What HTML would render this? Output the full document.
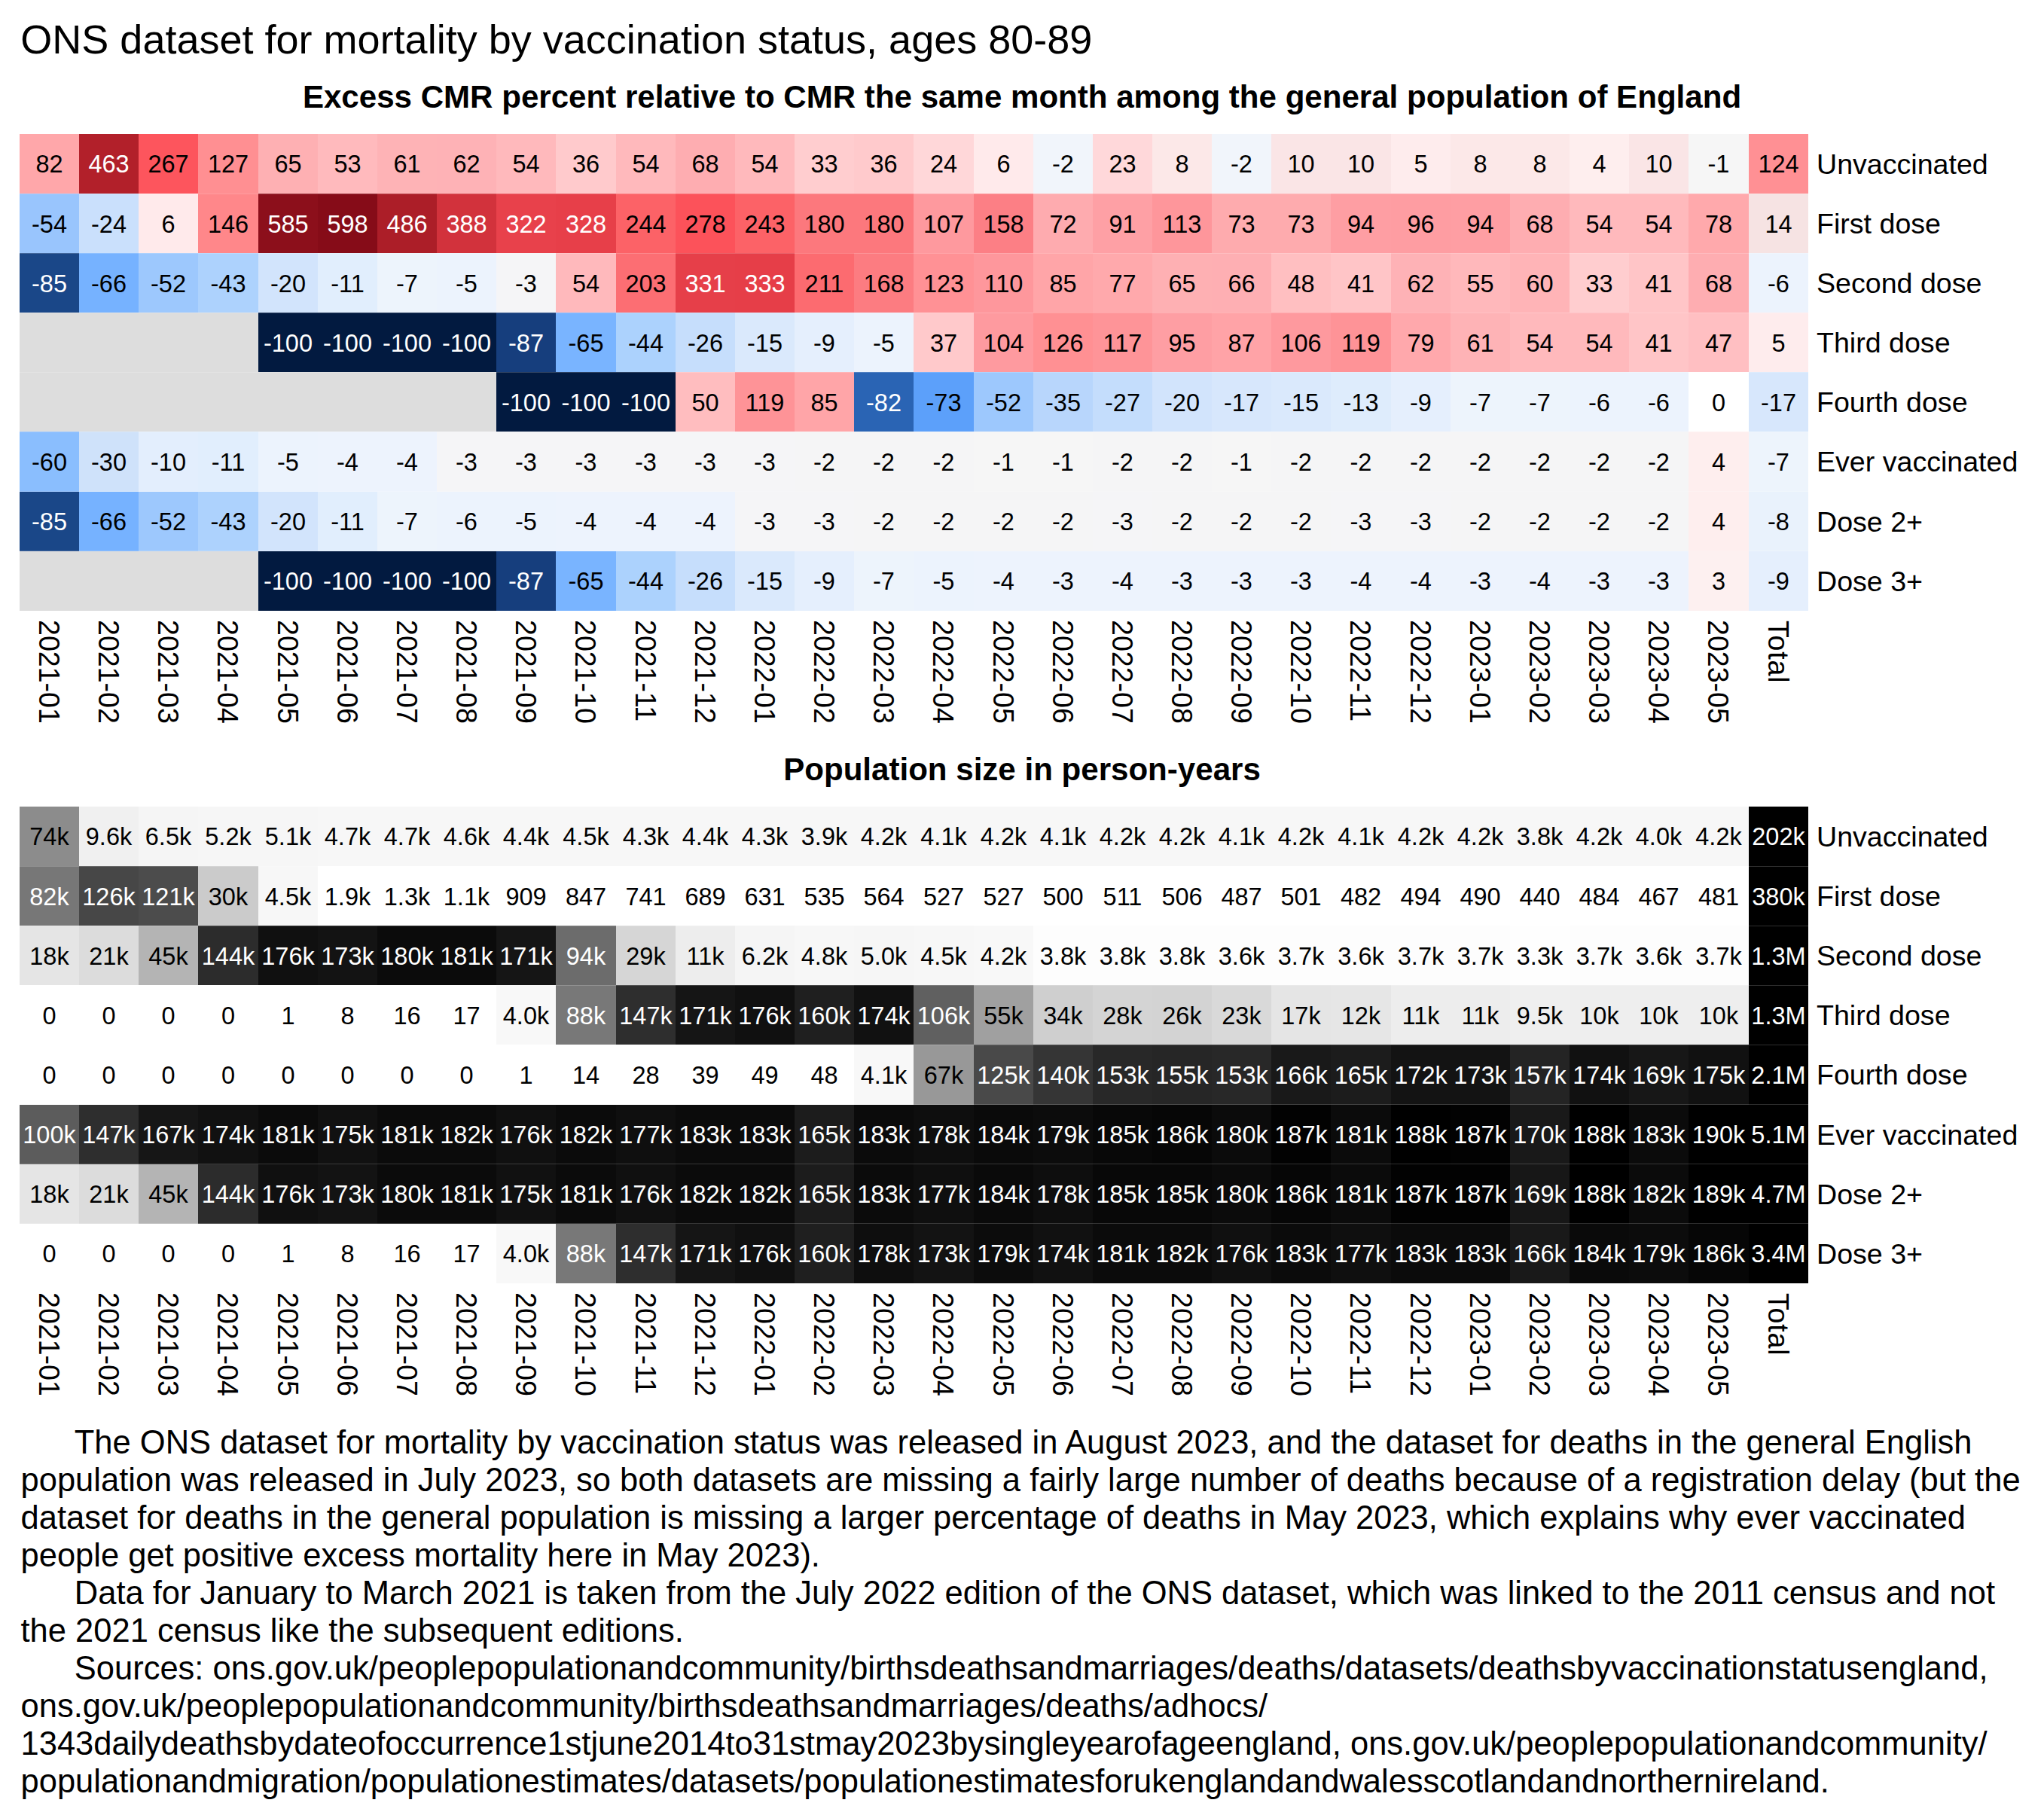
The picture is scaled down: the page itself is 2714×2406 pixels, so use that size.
<!DOCTYPE html>
<html lang="en"><head><meta charset="utf-8"><title>ONS dataset for mortality by vaccination status, ages 80-89</title>
<style>
html,body{margin:0;padding:0;background:#fff}
body{width:2714px;height:2406px;position:relative;overflow:hidden;font-family:"Liberation Sans",sans-serif;color:#000}
.t{position:absolute;left:27.3px;top:22px;font-size:54.02px;line-height:60px;white-space:nowrap}
.st{position:absolute;left:0;width:2714px;text-align:center;font-weight:bold;font-size:42.08px;line-height:50px;white-space:nowrap}
.row{position:absolute;left:0;width:2714px}
.row b{position:absolute;top:0;height:100%;overflow:hidden;font-weight:normal;font-size:32.5px;text-align:center;white-space:nowrap}
.row b.w{color:#fff}
.row b i{display:inline-block;font-style:normal;transform:scaleY(1.022)}
.sm{position:absolute;left:26px;width:2375px;height:1px;background:rgba(255,255,255,.18)}
.rl{position:absolute;left:2412px;top:0;font-size:37.6px;white-space:nowrap}
.cl{position:absolute;font-size:37.6px;line-height:42px;height:42px;white-space:nowrap;transform-origin:0 0;transform:rotate(90deg) scaleY(1.045)}
.p{position:absolute;left:27.5px;top:1890px;font-size:43.51px;line-height:50px;white-space:nowrap}
.p i{font-style:normal;display:inline-block;width:71.3px}
</style></head><body>
<div class="t">ONS dataset for mortality by vaccination status, ages 80-89</div>
<div class="st" style="top:104px">Excess CMR percent relative to CMR the same month among the general population of England</div>
<div class="row" style="top:178px;height:79px;line-height:80.1px">
<b style="left:26px;width:79px;background:rgb(255,167,170)"><i>82</i></b>
<b class="w" style="left:105px;width:79px;background:rgb(178,32,42)"><i>463</i></b>
<b style="left:184px;width:79px;background:rgb(253,85,93)"><i>267</i></b>
<b style="left:263px;width:80px;background:rgb(255,143,146)"><i>127</i></b>
<b style="left:343px;width:79px;background:rgb(254,176,179)"><i>65</i></b>
<b style="left:422px;width:79px;background:rgb(255,186,189)"><i>53</i></b>
<b style="left:501px;width:79px;background:rgb(254,179,182)"><i>61</i></b>
<b style="left:580px;width:79px;background:rgb(254,178,182)"><i>62</i></b>
<b style="left:659px;width:79px;background:rgb(255,185,188)"><i>54</i></b>
<b style="left:738px;width:80px;background:rgb(255,202,204)"><i>36</i></b>
<b style="left:818px;width:79px;background:rgb(255,185,188)"><i>54</i></b>
<b style="left:897px;width:79px;background:rgb(254,173,177)"><i>68</i></b>
<b style="left:976px;width:79px;background:rgb(255,185,188)"><i>54</i></b>
<b style="left:1055px;width:79px;background:rgb(255,205,207)"><i>33</i></b>
<b style="left:1134px;width:79px;background:rgb(255,202,204)"><i>36</i></b>
<b style="left:1213px;width:80px;background:rgb(255,215,217)"><i>24</i></b>
<b style="left:1293px;width:79px;background:rgb(255,234,235)"><i>6</i></b>
<b style="left:1372px;width:79px;background:rgb(241,245,251)"><i>-2</i></b>
<b style="left:1451px;width:79px;background:rgb(255,216,218)"><i>23</i></b>
<b style="left:1530px;width:79px;background:rgb(252,232,232)"><i>8</i></b>
<b style="left:1609px;width:79px;background:rgb(241,245,251)"><i>-2</i></b>
<b style="left:1688px;width:79px;background:rgb(250,229,230)"><i>10</i></b>
<b style="left:1767px;width:80px;background:rgb(250,229,230)"><i>10</i></b>
<b style="left:1847px;width:79px;background:rgb(254,236,237)"><i>5</i></b>
<b style="left:1926px;width:79px;background:rgb(252,232,232)"><i>8</i></b>
<b style="left:2005px;width:79px;background:rgb(252,232,232)"><i>8</i></b>
<b style="left:2084px;width:79px;background:rgb(254,238,238)"><i>4</i></b>
<b style="left:2163px;width:79px;background:rgb(250,229,230)"><i>10</i></b>
<b style="left:2242px;width:80px;background:rgb(246,246,246)"><i>-1</i></b>
<b style="left:2322px;width:79px;background:rgb(255,144,148)"><i>124</i></b>
<span class="rl" style="line-height:80.5px">Unvaccinated</span></div>
<div class="row" style="top:257px;height:79px;line-height:82.1px">
<b style="left:26px;width:79px;background:rgb(153,197,253)"><i>-54</i></b>
<b style="left:105px;width:79px;background:rgb(202,224,252)"><i>-24</i></b>
<b style="left:184px;width:79px;background:rgb(255,234,235)"><i>6</i></b>
<b style="left:263px;width:80px;background:rgb(255,135,138)"><i>146</i></b>
<b class="w" style="left:343px;width:79px;background:rgb(140,15,27)"><i>585</i></b>
<b class="w" style="left:422px;width:79px;background:rgb(134,12,24)"><i>598</i></b>
<b class="w" style="left:501px;width:79px;background:rgb(172,30,40)"><i>486</i></b>
<b class="w" style="left:580px;width:79px;background:rgb(210,50,60)"><i>388</i></b>
<b class="w" style="left:659px;width:79px;background:rgb(232,65,75)"><i>322</i></b>
<b class="w" style="left:738px;width:80px;background:rgb(231,63,73)"><i>328</i></b>
<b style="left:818px;width:79px;background:rgb(252,98,103)"><i>244</i></b>
<b style="left:897px;width:79px;background:rgb(252,82,90)"><i>278</i></b>
<b style="left:976px;width:79px;background:rgb(252,98,103)"><i>243</i></b>
<b style="left:1055px;width:79px;background:rgb(252,120,125)"><i>180</i></b>
<b style="left:1134px;width:79px;background:rgb(252,120,125)"><i>180</i></b>
<b style="left:1213px;width:80px;background:rgb(254,153,158)"><i>107</i></b>
<b style="left:1293px;width:79px;background:rgb(252,127,133)"><i>158</i></b>
<b style="left:1372px;width:79px;background:rgb(254,171,175)"><i>72</i></b>
<b style="left:1451px;width:79px;background:rgb(254,160,165)"><i>91</i></b>
<b style="left:1530px;width:79px;background:rgb(254,150,155)"><i>113</i></b>
<b style="left:1609px;width:79px;background:rgb(254,171,174)"><i>73</i></b>
<b style="left:1688px;width:79px;background:rgb(254,171,174)"><i>73</i></b>
<b style="left:1767px;width:80px;background:rgb(254,158,163)"><i>94</i></b>
<b style="left:1847px;width:79px;background:rgb(254,157,162)"><i>96</i></b>
<b style="left:1926px;width:79px;background:rgb(254,158,163)"><i>94</i></b>
<b style="left:2005px;width:79px;background:rgb(254,173,177)"><i>68</i></b>
<b style="left:2084px;width:79px;background:rgb(255,185,188)"><i>54</i></b>
<b style="left:2163px;width:79px;background:rgb(255,185,188)"><i>54</i></b>
<b style="left:2242px;width:80px;background:rgb(255,169,172)"><i>78</i></b>
<b style="left:2322px;width:79px;background:rgb(246,227,227)"><i>14</i></b>
<span class="rl" style="line-height:80.5px">First dose</span></div>
<div class="row" style="top:336px;height:79px;line-height:82.1px">
<b class="w" style="left:26px;width:79px;background:rgb(26,71,136)"><i>-85</i></b>
<b style="left:105px;width:79px;background:rgb(118,178,255)"><i>-66</i></b>
<b style="left:184px;width:79px;background:rgb(157,200,253)"><i>-52</i></b>
<b style="left:263px;width:80px;background:rgb(173,210,253)"><i>-43</i></b>
<b style="left:343px;width:79px;background:rgb(210,228,252)"><i>-20</i></b>
<b style="left:422px;width:79px;background:rgb(225,238,253)"><i>-11</i></b>
<b style="left:501px;width:79px;background:rgb(237,244,252)"><i>-7</i></b>
<b style="left:580px;width:79px;background:rgb(236,243,253)"><i>-5</i></b>
<b style="left:659px;width:79px;background:rgb(245,245,247)"><i>-3</i></b>
<b style="left:738px;width:80px;background:rgb(255,185,188)"><i>54</i></b>
<b style="left:818px;width:79px;background:rgb(252,110,115)"><i>203</i></b>
<b class="w" style="left:897px;width:79px;background:rgb(230,63,73)"><i>331</i></b>
<b class="w" style="left:976px;width:79px;background:rgb(230,62,72)"><i>333</i></b>
<b style="left:1055px;width:79px;background:rgb(252,107,112)"><i>211</i></b>
<b style="left:1134px;width:79px;background:rgb(252,124,129)"><i>168</i></b>
<b style="left:1213px;width:80px;background:rgb(255,145,149)"><i>123</i></b>
<b style="left:1293px;width:79px;background:rgb(254,151,156)"><i>110</i></b>
<b style="left:1372px;width:79px;background:rgb(255,165,168)"><i>85</i></b>
<b style="left:1451px;width:79px;background:rgb(255,169,172)"><i>77</i></b>
<b style="left:1530px;width:79px;background:rgb(254,176,179)"><i>65</i></b>
<b style="left:1609px;width:79px;background:rgb(254,175,179)"><i>66</i></b>
<b style="left:1688px;width:79px;background:rgb(255,191,193)"><i>48</i></b>
<b style="left:1767px;width:80px;background:rgb(255,197,199)"><i>41</i></b>
<b style="left:1847px;width:79px;background:rgb(254,178,182)"><i>62</i></b>
<b style="left:1926px;width:79px;background:rgb(255,184,187)"><i>55</i></b>
<b style="left:2005px;width:79px;background:rgb(255,180,183)"><i>60</i></b>
<b style="left:2084px;width:79px;background:rgb(255,205,207)"><i>33</i></b>
<b style="left:2163px;width:79px;background:rgb(255,197,199)"><i>41</i></b>
<b style="left:2242px;width:80px;background:rgb(254,173,177)"><i>68</i></b>
<b style="left:2322px;width:79px;background:rgb(236,243,253)"><i>-6</i></b>
<span class="rl" style="line-height:80.5px">Second dose</span></div>
<div class="row" style="top:415px;height:79px;line-height:82.1px">
<b style="left:26px;width:79px;background:rgb(221,221,221)"></b>
<b style="left:105px;width:79px;background:rgb(221,221,221)"></b>
<b style="left:184px;width:79px;background:rgb(221,221,221)"></b>
<b style="left:263px;width:80px;background:rgb(221,221,221)"></b>
<b class="w" style="left:343px;width:79px;background:rgb(2,26,64)"><i>-100</i></b>
<b class="w" style="left:422px;width:79px;background:rgb(2,26,64)"><i>-100</i></b>
<b class="w" style="left:501px;width:79px;background:rgb(2,26,64)"><i>-100</i></b>
<b class="w" style="left:580px;width:79px;background:rgb(2,26,64)"><i>-100</i></b>
<b class="w" style="left:659px;width:79px;background:rgb(22,62,125)"><i>-87</i></b>
<b style="left:738px;width:80px;background:rgb(121,180,255)"><i>-65</i></b>
<b style="left:818px;width:79px;background:rgb(172,210,253)"><i>-44</i></b>
<b style="left:897px;width:79px;background:rgb(198,222,252)"><i>-26</i></b>
<b style="left:976px;width:79px;background:rgb(218,233,252)"><i>-15</i></b>
<b style="left:1055px;width:79px;background:rgb(229,239,253)"><i>-9</i></b>
<b style="left:1134px;width:79px;background:rgb(236,243,253)"><i>-5</i></b>
<b style="left:1213px;width:80px;background:rgb(255,201,203)"><i>37</i></b>
<b style="left:1293px;width:79px;background:rgb(254,154,159)"><i>104</i></b>
<b style="left:1372px;width:79px;background:rgb(255,144,147)"><i>126</i></b>
<b style="left:1451px;width:79px;background:rgb(254,148,152)"><i>117</i></b>
<b style="left:1530px;width:79px;background:rgb(254,158,163)"><i>95</i></b>
<b style="left:1609px;width:79px;background:rgb(255,163,167)"><i>87</i></b>
<b style="left:1688px;width:79px;background:rgb(254,153,158)"><i>106</i></b>
<b style="left:1767px;width:80px;background:rgb(254,147,151)"><i>119</i></b>
<b style="left:1847px;width:79px;background:rgb(255,168,172)"><i>79</i></b>
<b style="left:1926px;width:79px;background:rgb(254,179,182)"><i>61</i></b>
<b style="left:2005px;width:79px;background:rgb(255,185,188)"><i>54</i></b>
<b style="left:2084px;width:79px;background:rgb(255,185,188)"><i>54</i></b>
<b style="left:2163px;width:79px;background:rgb(255,197,199)"><i>41</i></b>
<b style="left:2242px;width:80px;background:rgb(255,191,194)"><i>47</i></b>
<b style="left:2322px;width:79px;background:rgb(254,236,237)"><i>5</i></b>
<span class="rl" style="line-height:80.5px">Third dose</span></div>
<div class="row" style="top:494px;height:79px;line-height:82.1px">
<b style="left:26px;width:79px;background:rgb(221,221,221)"></b>
<b style="left:105px;width:79px;background:rgb(221,221,221)"></b>
<b style="left:184px;width:79px;background:rgb(221,221,221)"></b>
<b style="left:263px;width:80px;background:rgb(221,221,221)"></b>
<b style="left:343px;width:79px;background:rgb(221,221,221)"></b>
<b style="left:422px;width:79px;background:rgb(221,221,221)"></b>
<b style="left:501px;width:79px;background:rgb(221,221,221)"></b>
<b style="left:580px;width:79px;background:rgb(221,221,221)"></b>
<b class="w" style="left:659px;width:79px;background:rgb(2,26,64)"><i>-100</i></b>
<b class="w" style="left:738px;width:80px;background:rgb(2,26,64)"><i>-100</i></b>
<b class="w" style="left:818px;width:79px;background:rgb(2,26,64)"><i>-100</i></b>
<b style="left:897px;width:79px;background:rgb(255,189,191)"><i>50</i></b>
<b style="left:976px;width:79px;background:rgb(254,147,151)"><i>119</i></b>
<b style="left:1055px;width:79px;background:rgb(255,165,168)"><i>85</i></b>
<b class="w" style="left:1134px;width:79px;background:rgb(42,100,180)"><i>-82</i></b>
<b style="left:1213px;width:80px;background:rgb(92,160,250)"><i>-73</i></b>
<b style="left:1293px;width:79px;background:rgb(157,200,253)"><i>-52</i></b>
<b style="left:1372px;width:79px;background:rgb(184,214,252)"><i>-35</i></b>
<b style="left:1451px;width:79px;background:rgb(196,221,252)"><i>-27</i></b>
<b style="left:1530px;width:79px;background:rgb(210,228,252)"><i>-20</i></b>
<b style="left:1609px;width:79px;background:rgb(215,231,252)"><i>-17</i></b>
<b style="left:1688px;width:79px;background:rgb(218,233,252)"><i>-15</i></b>
<b style="left:1767px;width:80px;background:rgb(222,236,252)"><i>-13</i></b>
<b style="left:1847px;width:79px;background:rgb(229,239,253)"><i>-9</i></b>
<b style="left:1926px;width:79px;background:rgb(237,244,252)"><i>-7</i></b>
<b style="left:2005px;width:79px;background:rgb(237,244,252)"><i>-7</i></b>
<b style="left:2084px;width:79px;background:rgb(236,243,253)"><i>-6</i></b>
<b style="left:2163px;width:79px;background:rgb(236,243,253)"><i>-6</i></b>
<b style="left:2242px;width:80px;background:rgb(255,255,255)"><i>0</i></b>
<b style="left:2322px;width:79px;background:rgb(215,231,252)"><i>-17</i></b>
<span class="rl" style="line-height:80.5px">Fourth dose</span></div>
<div class="row" style="top:573px;height:80px;line-height:82.1px">
<b style="left:26px;width:79px;background:rgb(138,190,254)"><i>-60</i></b>
<b style="left:105px;width:79px;background:rgb(207,226,250)"><i>-30</i></b>
<b style="left:184px;width:79px;background:rgb(227,238,253)"><i>-10</i></b>
<b style="left:263px;width:80px;background:rgb(225,238,253)"><i>-11</i></b>
<b style="left:343px;width:79px;background:rgb(236,243,253)"><i>-5</i></b>
<b style="left:422px;width:79px;background:rgb(237,243,253)"><i>-4</i></b>
<b style="left:501px;width:79px;background:rgb(237,243,253)"><i>-4</i></b>
<b style="left:580px;width:79px;background:rgb(245,245,247)"><i>-3</i></b>
<b style="left:659px;width:79px;background:rgb(245,245,247)"><i>-3</i></b>
<b style="left:738px;width:80px;background:rgb(245,245,247)"><i>-3</i></b>
<b style="left:818px;width:79px;background:rgb(245,245,247)"><i>-3</i></b>
<b style="left:897px;width:79px;background:rgb(245,245,247)"><i>-3</i></b>
<b style="left:976px;width:79px;background:rgb(245,245,247)"><i>-3</i></b>
<b style="left:1055px;width:79px;background:rgb(245,245,246)"><i>-2</i></b>
<b style="left:1134px;width:79px;background:rgb(245,245,246)"><i>-2</i></b>
<b style="left:1213px;width:80px;background:rgb(245,245,246)"><i>-2</i></b>
<b style="left:1293px;width:79px;background:rgb(246,246,246)"><i>-1</i></b>
<b style="left:1372px;width:79px;background:rgb(246,246,246)"><i>-1</i></b>
<b style="left:1451px;width:79px;background:rgb(245,245,246)"><i>-2</i></b>
<b style="left:1530px;width:79px;background:rgb(245,245,246)"><i>-2</i></b>
<b style="left:1609px;width:79px;background:rgb(246,246,246)"><i>-1</i></b>
<b style="left:1688px;width:79px;background:rgb(245,245,246)"><i>-2</i></b>
<b style="left:1767px;width:80px;background:rgb(245,245,246)"><i>-2</i></b>
<b style="left:1847px;width:79px;background:rgb(245,245,246)"><i>-2</i></b>
<b style="left:1926px;width:79px;background:rgb(245,245,246)"><i>-2</i></b>
<b style="left:2005px;width:79px;background:rgb(245,245,246)"><i>-2</i></b>
<b style="left:2084px;width:79px;background:rgb(245,245,246)"><i>-2</i></b>
<b style="left:2163px;width:79px;background:rgb(245,245,246)"><i>-2</i></b>
<b style="left:2242px;width:80px;background:rgb(254,238,238)"><i>4</i></b>
<b style="left:2322px;width:79px;background:rgb(237,244,252)"><i>-7</i></b>
<span class="rl" style="line-height:80.5px">Ever vaccinated</span></div>
<div class="row" style="top:653px;height:79px;line-height:80.1px">
<b class="w" style="left:26px;width:79px;background:rgb(26,71,136)"><i>-85</i></b>
<b style="left:105px;width:79px;background:rgb(118,178,255)"><i>-66</i></b>
<b style="left:184px;width:79px;background:rgb(157,200,253)"><i>-52</i></b>
<b style="left:263px;width:80px;background:rgb(173,210,253)"><i>-43</i></b>
<b style="left:343px;width:79px;background:rgb(210,228,252)"><i>-20</i></b>
<b style="left:422px;width:79px;background:rgb(225,238,253)"><i>-11</i></b>
<b style="left:501px;width:79px;background:rgb(237,244,252)"><i>-7</i></b>
<b style="left:580px;width:79px;background:rgb(236,243,253)"><i>-6</i></b>
<b style="left:659px;width:79px;background:rgb(236,243,253)"><i>-5</i></b>
<b style="left:738px;width:80px;background:rgb(237,243,253)"><i>-4</i></b>
<b style="left:818px;width:79px;background:rgb(237,243,253)"><i>-4</i></b>
<b style="left:897px;width:79px;background:rgb(237,243,253)"><i>-4</i></b>
<b style="left:976px;width:79px;background:rgb(245,245,247)"><i>-3</i></b>
<b style="left:1055px;width:79px;background:rgb(245,245,247)"><i>-3</i></b>
<b style="left:1134px;width:79px;background:rgb(245,245,246)"><i>-2</i></b>
<b style="left:1213px;width:80px;background:rgb(245,245,246)"><i>-2</i></b>
<b style="left:1293px;width:79px;background:rgb(245,245,246)"><i>-2</i></b>
<b style="left:1372px;width:79px;background:rgb(245,245,246)"><i>-2</i></b>
<b style="left:1451px;width:79px;background:rgb(245,245,247)"><i>-3</i></b>
<b style="left:1530px;width:79px;background:rgb(245,245,246)"><i>-2</i></b>
<b style="left:1609px;width:79px;background:rgb(245,245,246)"><i>-2</i></b>
<b style="left:1688px;width:79px;background:rgb(245,245,246)"><i>-2</i></b>
<b style="left:1767px;width:80px;background:rgb(245,245,247)"><i>-3</i></b>
<b style="left:1847px;width:79px;background:rgb(245,245,247)"><i>-3</i></b>
<b style="left:1926px;width:79px;background:rgb(245,245,246)"><i>-2</i></b>
<b style="left:2005px;width:79px;background:rgb(245,245,246)"><i>-2</i></b>
<b style="left:2084px;width:79px;background:rgb(245,245,246)"><i>-2</i></b>
<b style="left:2163px;width:79px;background:rgb(245,245,246)"><i>-2</i></b>
<b style="left:2242px;width:80px;background:rgb(254,238,238)"><i>4</i></b>
<b style="left:2322px;width:79px;background:rgb(233,242,252)"><i>-8</i></b>
<span class="rl" style="line-height:80.5px">Dose 2+</span></div>
<div class="row" style="top:732px;height:79px;line-height:80.1px">
<b style="left:26px;width:79px;background:rgb(221,221,221)"></b>
<b style="left:105px;width:79px;background:rgb(221,221,221)"></b>
<b style="left:184px;width:79px;background:rgb(221,221,221)"></b>
<b style="left:263px;width:80px;background:rgb(221,221,221)"></b>
<b class="w" style="left:343px;width:79px;background:rgb(2,26,64)"><i>-100</i></b>
<b class="w" style="left:422px;width:79px;background:rgb(2,26,64)"><i>-100</i></b>
<b class="w" style="left:501px;width:79px;background:rgb(2,26,64)"><i>-100</i></b>
<b class="w" style="left:580px;width:79px;background:rgb(2,26,64)"><i>-100</i></b>
<b class="w" style="left:659px;width:79px;background:rgb(22,62,125)"><i>-87</i></b>
<b style="left:738px;width:80px;background:rgb(121,180,255)"><i>-65</i></b>
<b style="left:818px;width:79px;background:rgb(172,210,253)"><i>-44</i></b>
<b style="left:897px;width:79px;background:rgb(198,222,252)"><i>-26</i></b>
<b style="left:976px;width:79px;background:rgb(218,233,252)"><i>-15</i></b>
<b style="left:1055px;width:79px;background:rgb(229,239,253)"><i>-9</i></b>
<b style="left:1134px;width:79px;background:rgb(237,244,252)"><i>-7</i></b>
<b style="left:1213px;width:80px;background:rgb(236,243,253)"><i>-5</i></b>
<b style="left:1293px;width:79px;background:rgb(237,243,253)"><i>-4</i></b>
<b style="left:1372px;width:79px;background:rgb(237,243,253)"><i>-3</i></b>
<b style="left:1451px;width:79px;background:rgb(237,243,253)"><i>-4</i></b>
<b style="left:1530px;width:79px;background:rgb(237,243,253)"><i>-3</i></b>
<b style="left:1609px;width:79px;background:rgb(237,243,253)"><i>-3</i></b>
<b style="left:1688px;width:79px;background:rgb(237,243,253)"><i>-3</i></b>
<b style="left:1767px;width:80px;background:rgb(237,243,253)"><i>-4</i></b>
<b style="left:1847px;width:79px;background:rgb(237,243,253)"><i>-4</i></b>
<b style="left:1926px;width:79px;background:rgb(237,243,253)"><i>-3</i></b>
<b style="left:2005px;width:79px;background:rgb(237,243,253)"><i>-4</i></b>
<b style="left:2084px;width:79px;background:rgb(237,243,253)"><i>-3</i></b>
<b style="left:2163px;width:79px;background:rgb(237,243,253)"><i>-3</i></b>
<b style="left:2242px;width:80px;background:rgb(253,240,240)"><i>3</i></b>
<b style="left:2322px;width:79px;background:rgb(229,239,253)"><i>-9</i></b>
<span class="rl" style="line-height:80.5px">Dose 3+</span></div>
<div class="sm" style="top:257px"></div>
<div class="sm" style="top:336px"></div>
<div class="sm" style="top:415px"></div>
<div class="sm" style="top:494px"></div>
<div class="sm" style="top:573px"></div>
<div class="sm" style="top:652px"></div>
<div class="sm" style="top:731px"></div>
<div class="cl" style="left:87.7px;top:823.1px">2021-01</div>
<div class="cl" style="left:166.7px;top:823.1px">2021-02</div>
<div class="cl" style="left:245.7px;top:823.1px">2021-03</div>
<div class="cl" style="left:325.2px;top:823.1px">2021-04</div>
<div class="cl" style="left:404.7px;top:823.1px">2021-05</div>
<div class="cl" style="left:483.7px;top:823.1px">2021-06</div>
<div class="cl" style="left:562.7px;top:823.1px">2021-07</div>
<div class="cl" style="left:641.7px;top:823.1px">2021-08</div>
<div class="cl" style="left:720.7px;top:823.1px">2021-09</div>
<div class="cl" style="left:800.2px;top:823.1px">2021-10</div>
<div class="cl" style="left:879.7px;top:823.1px">2021-11</div>
<div class="cl" style="left:958.7px;top:823.1px">2021-12</div>
<div class="cl" style="left:1037.7px;top:823.1px">2022-01</div>
<div class="cl" style="left:1116.7px;top:823.1px">2022-02</div>
<div class="cl" style="left:1195.7px;top:823.1px">2022-03</div>
<div class="cl" style="left:1275.2px;top:823.1px">2022-04</div>
<div class="cl" style="left:1354.7px;top:823.1px">2022-05</div>
<div class="cl" style="left:1433.7px;top:823.1px">2022-06</div>
<div class="cl" style="left:1512.7px;top:823.1px">2022-07</div>
<div class="cl" style="left:1591.7px;top:823.1px">2022-08</div>
<div class="cl" style="left:1670.7px;top:823.1px">2022-09</div>
<div class="cl" style="left:1749.7px;top:823.1px">2022-10</div>
<div class="cl" style="left:1829.2px;top:823.1px">2022-11</div>
<div class="cl" style="left:1908.7px;top:823.1px">2022-12</div>
<div class="cl" style="left:1987.7px;top:823.1px">2023-01</div>
<div class="cl" style="left:2066.7px;top:823.1px">2023-02</div>
<div class="cl" style="left:2145.7px;top:823.1px">2023-03</div>
<div class="cl" style="left:2224.7px;top:823.1px">2023-04</div>
<div class="cl" style="left:2304.2px;top:823.1px">2023-05</div>
<div class="cl" style="left:2383.7px;top:823.1px;letter-spacing:.8px;margin-top:.5px">Total</div>
<div class="st" style="top:997px">Population size in person-years</div>
<div class="row" style="top:1071px;height:79px;line-height:80.1px">
<b style="left:26px;width:79px;background:rgb(140,140,140)"><i>74k</i></b>
<b style="left:105px;width:79px;background:rgb(240,240,240)"><i>9.6k</i></b>
<b style="left:184px;width:79px;background:rgb(245,245,245)"><i>6.5k</i></b>
<b style="left:263px;width:80px;background:rgb(246,246,246)"><i>5.2k</i></b>
<b style="left:343px;width:79px;background:rgb(246,246,246)"><i>5.1k</i></b>
<b style="left:422px;width:79px;background:rgb(247,247,247)"><i>4.7k</i></b>
<b style="left:501px;width:79px;background:rgb(247,247,247)"><i>4.7k</i></b>
<b style="left:580px;width:79px;background:rgb(247,247,247)"><i>4.6k</i></b>
<b style="left:659px;width:79px;background:rgb(247,247,247)"><i>4.4k</i></b>
<b style="left:738px;width:80px;background:rgb(247,247,247)"><i>4.5k</i></b>
<b style="left:818px;width:79px;background:rgb(247,247,247)"><i>4.3k</i></b>
<b style="left:897px;width:79px;background:rgb(247,247,247)"><i>4.4k</i></b>
<b style="left:976px;width:79px;background:rgb(247,247,247)"><i>4.3k</i></b>
<b style="left:1055px;width:79px;background:rgb(247,247,247)"><i>3.9k</i></b>
<b style="left:1134px;width:79px;background:rgb(247,247,247)"><i>4.2k</i></b>
<b style="left:1213px;width:80px;background:rgb(247,247,247)"><i>4.1k</i></b>
<b style="left:1293px;width:79px;background:rgb(247,247,247)"><i>4.2k</i></b>
<b style="left:1372px;width:79px;background:rgb(247,247,247)"><i>4.1k</i></b>
<b style="left:1451px;width:79px;background:rgb(247,247,247)"><i>4.2k</i></b>
<b style="left:1530px;width:79px;background:rgb(247,247,247)"><i>4.2k</i></b>
<b style="left:1609px;width:79px;background:rgb(247,247,247)"><i>4.1k</i></b>
<b style="left:1688px;width:79px;background:rgb(247,247,247)"><i>4.2k</i></b>
<b style="left:1767px;width:80px;background:rgb(247,247,247)"><i>4.1k</i></b>
<b style="left:1847px;width:79px;background:rgb(247,247,247)"><i>4.2k</i></b>
<b style="left:1926px;width:79px;background:rgb(247,247,247)"><i>4.2k</i></b>
<b style="left:2005px;width:79px;background:rgb(247,247,247)"><i>3.8k</i></b>
<b style="left:2084px;width:79px;background:rgb(247,247,247)"><i>4.2k</i></b>
<b style="left:2163px;width:79px;background:rgb(247,247,247)"><i>4.0k</i></b>
<b style="left:2242px;width:80px;background:rgb(247,247,247)"><i>4.2k</i></b>
<b class="w" style="left:2322px;width:79px;background:rgb(0,0,0)"><i>202k</i></b>
<span class="rl" style="line-height:80.5px">Unvaccinated</span></div>
<div class="row" style="top:1150px;height:79px;line-height:82.1px">
<b class="w" style="left:26px;width:79px;background:rgb(119,119,119)"><i>82k</i></b>
<b class="w" style="left:105px;width:79px;background:rgb(71,71,71)"><i>126k</i></b>
<b class="w" style="left:184px;width:79px;background:rgb(76,76,76)"><i>121k</i></b>
<b style="left:263px;width:80px;background:rgb(203,203,203)"><i>30k</i></b>
<b style="left:343px;width:79px;background:rgb(247,247,247)"><i>4.5k</i></b>
<b style="left:422px;width:79px;background:rgb(255,255,255)"><i>1.9k</i></b>
<b style="left:501px;width:79px;background:rgb(255,255,255)"><i>1.3k</i></b>
<b style="left:580px;width:79px;background:rgb(255,255,255)"><i>1.1k</i></b>
<b style="left:659px;width:79px;background:rgb(255,255,255)"><i>909</i></b>
<b style="left:738px;width:80px;background:rgb(255,255,255)"><i>847</i></b>
<b style="left:818px;width:79px;background:rgb(255,255,255)"><i>741</i></b>
<b style="left:897px;width:79px;background:rgb(255,255,255)"><i>689</i></b>
<b style="left:976px;width:79px;background:rgb(255,255,255)"><i>631</i></b>
<b style="left:1055px;width:79px;background:rgb(255,255,255)"><i>535</i></b>
<b style="left:1134px;width:79px;background:rgb(255,255,255)"><i>564</i></b>
<b style="left:1213px;width:80px;background:rgb(255,255,255)"><i>527</i></b>
<b style="left:1293px;width:79px;background:rgb(255,255,255)"><i>527</i></b>
<b style="left:1372px;width:79px;background:rgb(255,255,255)"><i>500</i></b>
<b style="left:1451px;width:79px;background:rgb(255,255,255)"><i>511</i></b>
<b style="left:1530px;width:79px;background:rgb(255,255,255)"><i>506</i></b>
<b style="left:1609px;width:79px;background:rgb(255,255,255)"><i>487</i></b>
<b style="left:1688px;width:79px;background:rgb(255,255,255)"><i>501</i></b>
<b style="left:1767px;width:80px;background:rgb(255,255,255)"><i>482</i></b>
<b style="left:1847px;width:79px;background:rgb(255,255,255)"><i>494</i></b>
<b style="left:1926px;width:79px;background:rgb(255,255,255)"><i>490</i></b>
<b style="left:2005px;width:79px;background:rgb(255,255,255)"><i>440</i></b>
<b style="left:2084px;width:79px;background:rgb(255,255,255)"><i>484</i></b>
<b style="left:2163px;width:79px;background:rgb(255,255,255)"><i>467</i></b>
<b style="left:2242px;width:80px;background:rgb(255,255,255)"><i>481</i></b>
<b class="w" style="left:2322px;width:79px;background:rgb(0,0,0)"><i>380k</i></b>
<span class="rl" style="line-height:80.5px">First dose</span></div>
<div class="row" style="top:1229px;height:79px;line-height:82.1px">
<b style="left:26px;width:79px;background:rgb(229,229,229)"><i>18k</i></b>
<b style="left:105px;width:79px;background:rgb(220,220,220)"><i>21k</i></b>
<b style="left:184px;width:79px;background:rgb(180,180,180)"><i>45k</i></b>
<b class="w" style="left:263px;width:80px;background:rgb(44,44,44)"><i>144k</i></b>
<b class="w" style="left:343px;width:79px;background:rgb(16,16,16)"><i>176k</i></b>
<b class="w" style="left:422px;width:79px;background:rgb(19,19,19)"><i>173k</i></b>
<b class="w" style="left:501px;width:79px;background:rgb(11,11,11)"><i>180k</i></b>
<b class="w" style="left:580px;width:79px;background:rgb(11,11,11)"><i>181k</i></b>
<b class="w" style="left:659px;width:79px;background:rgb(21,21,21)"><i>171k</i></b>
<b class="w" style="left:738px;width:80px;background:rgb(108,108,108)"><i>94k</i></b>
<b style="left:818px;width:79px;background:rgb(214,214,214)"><i>29k</i></b>
<b style="left:897px;width:79px;background:rgb(237,237,237)"><i>11k</i></b>
<b style="left:976px;width:79px;background:rgb(245,245,245)"><i>6.2k</i></b>
<b style="left:1055px;width:79px;background:rgb(247,247,247)"><i>4.8k</i></b>
<b style="left:1134px;width:79px;background:rgb(246,246,246)"><i>5.0k</i></b>
<b style="left:1213px;width:80px;background:rgb(247,247,247)"><i>4.5k</i></b>
<b style="left:1293px;width:79px;background:rgb(248,248,248)"><i>4.2k</i></b>
<b style="left:1372px;width:79px;background:rgb(253,253,253)"><i>3.8k</i></b>
<b style="left:1451px;width:79px;background:rgb(253,253,253)"><i>3.8k</i></b>
<b style="left:1530px;width:79px;background:rgb(253,253,253)"><i>3.8k</i></b>
<b style="left:1609px;width:79px;background:rgb(253,253,253)"><i>3.6k</i></b>
<b style="left:1688px;width:79px;background:rgb(253,253,253)"><i>3.7k</i></b>
<b style="left:1767px;width:80px;background:rgb(253,253,253)"><i>3.6k</i></b>
<b style="left:1847px;width:79px;background:rgb(253,253,253)"><i>3.7k</i></b>
<b style="left:1926px;width:79px;background:rgb(253,253,253)"><i>3.7k</i></b>
<b style="left:2005px;width:79px;background:rgb(254,254,254)"><i>3.3k</i></b>
<b style="left:2084px;width:79px;background:rgb(253,253,253)"><i>3.7k</i></b>
<b style="left:2163px;width:79px;background:rgb(253,253,253)"><i>3.6k</i></b>
<b style="left:2242px;width:80px;background:rgb(253,253,253)"><i>3.7k</i></b>
<b class="w" style="left:2322px;width:79px;background:rgb(0,0,0)"><i>1.3M</i></b>
<span class="rl" style="line-height:80.5px">Second dose</span></div>
<div class="row" style="top:1308px;height:79px;line-height:82.1px">
<b style="left:26px;width:79px;background:rgb(255,255,255)"><i>0</i></b>
<b style="left:105px;width:79px;background:rgb(255,255,255)"><i>0</i></b>
<b style="left:184px;width:79px;background:rgb(255,255,255)"><i>0</i></b>
<b style="left:263px;width:80px;background:rgb(255,255,255)"><i>0</i></b>
<b style="left:343px;width:79px;background:rgb(255,255,255)"><i>1</i></b>
<b style="left:422px;width:79px;background:rgb(255,255,255)"><i>8</i></b>
<b style="left:501px;width:79px;background:rgb(255,255,255)"><i>16</i></b>
<b style="left:580px;width:79px;background:rgb(255,255,255)"><i>17</i></b>
<b style="left:659px;width:79px;background:rgb(248,248,248)"><i>4.0k</i></b>
<b class="w" style="left:738px;width:80px;background:rgb(120,120,120)"><i>88k</i></b>
<b class="w" style="left:818px;width:79px;background:rgb(46,46,46)"><i>147k</i></b>
<b class="w" style="left:897px;width:79px;background:rgb(21,21,21)"><i>171k</i></b>
<b class="w" style="left:976px;width:79px;background:rgb(16,16,16)"><i>176k</i></b>
<b class="w" style="left:1055px;width:79px;background:rgb(31,31,31)"><i>160k</i></b>
<b class="w" style="left:1134px;width:79px;background:rgb(17,17,17)"><i>174k</i></b>
<b class="w" style="left:1213px;width:80px;background:rgb(96,96,96)"><i>106k</i></b>
<b style="left:1293px;width:79px;background:rgb(160,160,160)"><i>55k</i></b>
<b style="left:1372px;width:79px;background:rgb(207,207,207)"><i>34k</i></b>
<b style="left:1451px;width:79px;background:rgb(212,212,212)"><i>28k</i></b>
<b style="left:1530px;width:79px;background:rgb(211,211,211)"><i>26k</i></b>
<b style="left:1609px;width:79px;background:rgb(217,217,217)"><i>23k</i></b>
<b style="left:1688px;width:79px;background:rgb(229,229,229)"><i>17k</i></b>
<b style="left:1767px;width:80px;background:rgb(230,230,230)"><i>12k</i></b>
<b style="left:1847px;width:79px;background:rgb(237,237,237)"><i>11k</i></b>
<b style="left:1926px;width:79px;background:rgb(237,237,237)"><i>11k</i></b>
<b style="left:2005px;width:79px;background:rgb(239,239,239)"><i>9.5k</i></b>
<b style="left:2084px;width:79px;background:rgb(238,238,238)"><i>10k</i></b>
<b style="left:2163px;width:79px;background:rgb(238,238,238)"><i>10k</i></b>
<b style="left:2242px;width:80px;background:rgb(238,238,238)"><i>10k</i></b>
<b class="w" style="left:2322px;width:79px;background:rgb(0,0,0)"><i>1.3M</i></b>
<span class="rl" style="line-height:80.5px">Third dose</span></div>
<div class="row" style="top:1387px;height:80px;line-height:82.1px">
<b style="left:26px;width:79px;background:rgb(255,255,255)"><i>0</i></b>
<b style="left:105px;width:79px;background:rgb(255,255,255)"><i>0</i></b>
<b style="left:184px;width:79px;background:rgb(255,255,255)"><i>0</i></b>
<b style="left:263px;width:80px;background:rgb(255,255,255)"><i>0</i></b>
<b style="left:343px;width:79px;background:rgb(255,255,255)"><i>0</i></b>
<b style="left:422px;width:79px;background:rgb(255,255,255)"><i>0</i></b>
<b style="left:501px;width:79px;background:rgb(255,255,255)"><i>0</i></b>
<b style="left:580px;width:79px;background:rgb(255,255,255)"><i>0</i></b>
<b style="left:659px;width:79px;background:rgb(255,255,255)"><i>1</i></b>
<b style="left:738px;width:80px;background:rgb(255,255,255)"><i>14</i></b>
<b style="left:818px;width:79px;background:rgb(255,255,255)"><i>28</i></b>
<b style="left:897px;width:79px;background:rgb(255,255,255)"><i>39</i></b>
<b style="left:976px;width:79px;background:rgb(255,255,255)"><i>49</i></b>
<b style="left:1055px;width:79px;background:rgb(255,255,255)"><i>48</i></b>
<b style="left:1134px;width:79px;background:rgb(248,248,248)"><i>4.1k</i></b>
<b style="left:1213px;width:80px;background:rgb(152,152,152)"><i>67k</i></b>
<b class="w" style="left:1293px;width:79px;background:rgb(73,73,73)"><i>125k</i></b>
<b class="w" style="left:1372px;width:79px;background:rgb(53,53,53)"><i>140k</i></b>
<b class="w" style="left:1451px;width:79px;background:rgb(40,40,40)"><i>153k</i></b>
<b class="w" style="left:1530px;width:79px;background:rgb(38,38,38)"><i>155k</i></b>
<b class="w" style="left:1609px;width:79px;background:rgb(40,40,40)"><i>153k</i></b>
<b class="w" style="left:1688px;width:79px;background:rgb(25,25,25)"><i>166k</i></b>
<b class="w" style="left:1767px;width:80px;background:rgb(28,28,28)"><i>165k</i></b>
<b class="w" style="left:1847px;width:79px;background:rgb(19,19,19)"><i>172k</i></b>
<b class="w" style="left:1926px;width:79px;background:rgb(19,19,19)"><i>173k</i></b>
<b class="w" style="left:2005px;width:79px;background:rgb(36,36,36)"><i>157k</i></b>
<b class="w" style="left:2084px;width:79px;background:rgb(17,17,17)"><i>174k</i></b>
<b class="w" style="left:2163px;width:79px;background:rgb(23,23,23)"><i>169k</i></b>
<b class="w" style="left:2242px;width:80px;background:rgb(17,17,17)"><i>175k</i></b>
<b class="w" style="left:2322px;width:79px;background:rgb(0,0,0)"><i>2.1M</i></b>
<span class="rl" style="line-height:80.5px">Fourth dose</span></div>
<div class="row" style="top:1467px;height:79px;line-height:80.1px">
<b class="w" style="left:26px;width:79px;background:rgb(92,92,92)"><i>100k</i></b>
<b class="w" style="left:105px;width:79px;background:rgb(46,46,46)"><i>147k</i></b>
<b class="w" style="left:184px;width:79px;background:rgb(22,22,22)"><i>167k</i></b>
<b class="w" style="left:263px;width:80px;background:rgb(17,17,17)"><i>174k</i></b>
<b class="w" style="left:343px;width:79px;background:rgb(11,11,11)"><i>181k</i></b>
<b class="w" style="left:422px;width:79px;background:rgb(17,17,17)"><i>175k</i></b>
<b class="w" style="left:501px;width:79px;background:rgb(11,11,11)"><i>181k</i></b>
<b class="w" style="left:580px;width:79px;background:rgb(11,11,11)"><i>182k</i></b>
<b class="w" style="left:659px;width:79px;background:rgb(16,16,16)"><i>176k</i></b>
<b class="w" style="left:738px;width:80px;background:rgb(11,11,11)"><i>182k</i></b>
<b class="w" style="left:818px;width:79px;background:rgb(15,15,15)"><i>177k</i></b>
<b class="w" style="left:897px;width:79px;background:rgb(11,11,11)"><i>183k</i></b>
<b class="w" style="left:976px;width:79px;background:rgb(11,11,11)"><i>183k</i></b>
<b class="w" style="left:1055px;width:79px;background:rgb(28,28,28)"><i>165k</i></b>
<b class="w" style="left:1134px;width:79px;background:rgb(11,11,11)"><i>183k</i></b>
<b class="w" style="left:1213px;width:80px;background:rgb(14,14,14)"><i>178k</i></b>
<b class="w" style="left:1293px;width:79px;background:rgb(10,10,10)"><i>184k</i></b>
<b class="w" style="left:1372px;width:79px;background:rgb(12,12,12)"><i>179k</i></b>
<b class="w" style="left:1451px;width:79px;background:rgb(8,8,8)"><i>185k</i></b>
<b class="w" style="left:1530px;width:79px;background:rgb(6,6,6)"><i>186k</i></b>
<b class="w" style="left:1609px;width:79px;background:rgb(11,11,11)"><i>180k</i></b>
<b class="w" style="left:1688px;width:79px;background:rgb(2,2,2)"><i>187k</i></b>
<b class="w" style="left:1767px;width:80px;background:rgb(11,11,11)"><i>181k</i></b>
<b class="w" style="left:1847px;width:79px;background:rgb(0,0,0)"><i>188k</i></b>
<b class="w" style="left:1926px;width:79px;background:rgb(2,2,2)"><i>187k</i></b>
<b class="w" style="left:2005px;width:79px;background:rgb(25,25,25)"><i>170k</i></b>
<b class="w" style="left:2084px;width:79px;background:rgb(0,0,0)"><i>188k</i></b>
<b class="w" style="left:2163px;width:79px;background:rgb(11,11,11)"><i>183k</i></b>
<b class="w" style="left:2242px;width:80px;background:rgb(0,0,0)"><i>190k</i></b>
<b class="w" style="left:2322px;width:79px;background:rgb(0,0,0)"><i>5.1M</i></b>
<span class="rl" style="line-height:80.5px">Ever vaccinated</span></div>
<div class="row" style="top:1546px;height:79px;line-height:80.1px">
<b style="left:26px;width:79px;background:rgb(229,229,229)"><i>18k</i></b>
<b style="left:105px;width:79px;background:rgb(220,220,220)"><i>21k</i></b>
<b style="left:184px;width:79px;background:rgb(180,180,180)"><i>45k</i></b>
<b class="w" style="left:263px;width:80px;background:rgb(44,44,44)"><i>144k</i></b>
<b class="w" style="left:343px;width:79px;background:rgb(16,16,16)"><i>176k</i></b>
<b class="w" style="left:422px;width:79px;background:rgb(19,19,19)"><i>173k</i></b>
<b class="w" style="left:501px;width:79px;background:rgb(11,11,11)"><i>180k</i></b>
<b class="w" style="left:580px;width:79px;background:rgb(11,11,11)"><i>181k</i></b>
<b class="w" style="left:659px;width:79px;background:rgb(17,17,17)"><i>175k</i></b>
<b class="w" style="left:738px;width:80px;background:rgb(11,11,11)"><i>181k</i></b>
<b class="w" style="left:818px;width:79px;background:rgb(16,16,16)"><i>176k</i></b>
<b class="w" style="left:897px;width:79px;background:rgb(11,11,11)"><i>182k</i></b>
<b class="w" style="left:976px;width:79px;background:rgb(11,11,11)"><i>182k</i></b>
<b class="w" style="left:1055px;width:79px;background:rgb(28,28,28)"><i>165k</i></b>
<b class="w" style="left:1134px;width:79px;background:rgb(11,11,11)"><i>183k</i></b>
<b class="w" style="left:1213px;width:80px;background:rgb(15,15,15)"><i>177k</i></b>
<b class="w" style="left:1293px;width:79px;background:rgb(10,10,10)"><i>184k</i></b>
<b class="w" style="left:1372px;width:79px;background:rgb(14,14,14)"><i>178k</i></b>
<b class="w" style="left:1451px;width:79px;background:rgb(8,8,8)"><i>185k</i></b>
<b class="w" style="left:1530px;width:79px;background:rgb(8,8,8)"><i>185k</i></b>
<b class="w" style="left:1609px;width:79px;background:rgb(11,11,11)"><i>180k</i></b>
<b class="w" style="left:1688px;width:79px;background:rgb(6,6,6)"><i>186k</i></b>
<b class="w" style="left:1767px;width:80px;background:rgb(11,11,11)"><i>181k</i></b>
<b class="w" style="left:1847px;width:79px;background:rgb(2,2,2)"><i>187k</i></b>
<b class="w" style="left:1926px;width:79px;background:rgb(2,2,2)"><i>187k</i></b>
<b class="w" style="left:2005px;width:79px;background:rgb(23,23,23)"><i>169k</i></b>
<b class="w" style="left:2084px;width:79px;background:rgb(0,0,0)"><i>188k</i></b>
<b class="w" style="left:2163px;width:79px;background:rgb(11,11,11)"><i>182k</i></b>
<b class="w" style="left:2242px;width:80px;background:rgb(0,0,0)"><i>189k</i></b>
<b class="w" style="left:2322px;width:79px;background:rgb(0,0,0)"><i>4.7M</i></b>
<span class="rl" style="line-height:80.5px">Dose 2+</span></div>
<div class="row" style="top:1625px;height:79px;line-height:80.1px">
<b style="left:26px;width:79px;background:rgb(255,255,255)"><i>0</i></b>
<b style="left:105px;width:79px;background:rgb(255,255,255)"><i>0</i></b>
<b style="left:184px;width:79px;background:rgb(255,255,255)"><i>0</i></b>
<b style="left:263px;width:80px;background:rgb(255,255,255)"><i>0</i></b>
<b style="left:343px;width:79px;background:rgb(255,255,255)"><i>1</i></b>
<b style="left:422px;width:79px;background:rgb(255,255,255)"><i>8</i></b>
<b style="left:501px;width:79px;background:rgb(255,255,255)"><i>16</i></b>
<b style="left:580px;width:79px;background:rgb(255,255,255)"><i>17</i></b>
<b style="left:659px;width:79px;background:rgb(248,248,248)"><i>4.0k</i></b>
<b class="w" style="left:738px;width:80px;background:rgb(120,120,120)"><i>88k</i></b>
<b class="w" style="left:818px;width:79px;background:rgb(46,46,46)"><i>147k</i></b>
<b class="w" style="left:897px;width:79px;background:rgb(21,21,21)"><i>171k</i></b>
<b class="w" style="left:976px;width:79px;background:rgb(16,16,16)"><i>176k</i></b>
<b class="w" style="left:1055px;width:79px;background:rgb(31,31,31)"><i>160k</i></b>
<b class="w" style="left:1134px;width:79px;background:rgb(14,14,14)"><i>178k</i></b>
<b class="w" style="left:1213px;width:80px;background:rgb(19,19,19)"><i>173k</i></b>
<b class="w" style="left:1293px;width:79px;background:rgb(12,12,12)"><i>179k</i></b>
<b class="w" style="left:1372px;width:79px;background:rgb(17,17,17)"><i>174k</i></b>
<b class="w" style="left:1451px;width:79px;background:rgb(11,11,11)"><i>181k</i></b>
<b class="w" style="left:1530px;width:79px;background:rgb(11,11,11)"><i>182k</i></b>
<b class="w" style="left:1609px;width:79px;background:rgb(16,16,16)"><i>176k</i></b>
<b class="w" style="left:1688px;width:79px;background:rgb(11,11,11)"><i>183k</i></b>
<b class="w" style="left:1767px;width:80px;background:rgb(15,15,15)"><i>177k</i></b>
<b class="w" style="left:1847px;width:79px;background:rgb(11,11,11)"><i>183k</i></b>
<b class="w" style="left:1926px;width:79px;background:rgb(11,11,11)"><i>183k</i></b>
<b class="w" style="left:2005px;width:79px;background:rgb(25,25,25)"><i>166k</i></b>
<b class="w" style="left:2084px;width:79px;background:rgb(10,10,10)"><i>184k</i></b>
<b class="w" style="left:2163px;width:79px;background:rgb(12,12,12)"><i>179k</i></b>
<b class="w" style="left:2242px;width:80px;background:rgb(6,6,6)"><i>186k</i></b>
<b class="w" style="left:2322px;width:79px;background:rgb(0,0,0)"><i>3.4M</i></b>
<span class="rl" style="line-height:80.5px">Dose 3+</span></div>
<div class="sm" style="top:1150px"></div>
<div class="sm" style="top:1229px"></div>
<div class="sm" style="top:1308px"></div>
<div class="sm" style="top:1387px"></div>
<div class="sm" style="top:1466px"></div>
<div class="sm" style="top:1545px"></div>
<div class="sm" style="top:1624px"></div>
<div class="cl" style="left:87.7px;top:1716.1px">2021-01</div>
<div class="cl" style="left:166.7px;top:1716.1px">2021-02</div>
<div class="cl" style="left:245.7px;top:1716.1px">2021-03</div>
<div class="cl" style="left:325.2px;top:1716.1px">2021-04</div>
<div class="cl" style="left:404.7px;top:1716.1px">2021-05</div>
<div class="cl" style="left:483.7px;top:1716.1px">2021-06</div>
<div class="cl" style="left:562.7px;top:1716.1px">2021-07</div>
<div class="cl" style="left:641.7px;top:1716.1px">2021-08</div>
<div class="cl" style="left:720.7px;top:1716.1px">2021-09</div>
<div class="cl" style="left:800.2px;top:1716.1px">2021-10</div>
<div class="cl" style="left:879.7px;top:1716.1px">2021-11</div>
<div class="cl" style="left:958.7px;top:1716.1px">2021-12</div>
<div class="cl" style="left:1037.7px;top:1716.1px">2022-01</div>
<div class="cl" style="left:1116.7px;top:1716.1px">2022-02</div>
<div class="cl" style="left:1195.7px;top:1716.1px">2022-03</div>
<div class="cl" style="left:1275.2px;top:1716.1px">2022-04</div>
<div class="cl" style="left:1354.7px;top:1716.1px">2022-05</div>
<div class="cl" style="left:1433.7px;top:1716.1px">2022-06</div>
<div class="cl" style="left:1512.7px;top:1716.1px">2022-07</div>
<div class="cl" style="left:1591.7px;top:1716.1px">2022-08</div>
<div class="cl" style="left:1670.7px;top:1716.1px">2022-09</div>
<div class="cl" style="left:1749.7px;top:1716.1px">2022-10</div>
<div class="cl" style="left:1829.2px;top:1716.1px">2022-11</div>
<div class="cl" style="left:1908.7px;top:1716.1px">2022-12</div>
<div class="cl" style="left:1987.7px;top:1716.1px">2023-01</div>
<div class="cl" style="left:2066.7px;top:1716.1px">2023-02</div>
<div class="cl" style="left:2145.7px;top:1716.1px">2023-03</div>
<div class="cl" style="left:2224.7px;top:1716.1px">2023-04</div>
<div class="cl" style="left:2304.2px;top:1716.1px">2023-05</div>
<div class="cl" style="left:2383.7px;top:1716.1px;letter-spacing:.8px;margin-top:.5px">Total</div>
<div class="p"><i></i>The ONS dataset for mortality by vaccination status was released in August 2023, and the dataset for deaths in the general English<br>
population was released in July 2023, so both datasets are missing a fairly large number of deaths because of a registration delay (but the<br>
dataset for deaths in the general population is missing a larger percentage of deaths in May 2023, which explains why ever vaccinated<br>
people get positive excess mortality here in May 2023).<br>
<i></i>Data for January to March 2021 is taken from the July 2022 edition of the ONS dataset, which was linked to the 2011 census and not<br>
the 2021 census like the subsequent editions.<br>
<i></i>Sources: ons.gov.uk/peoplepopulationandcommunity/birthsdeathsandmarriages/deaths/datasets/deathsbyvaccinationstatusengland,<br>
ons.gov.uk/peoplepopulationandcommunity/birthsdeathsandmarriages/deaths/adhocs/<br>
1343dailydeathsbydateofoccurrence1stjune2014to31stmay2023bysingleyearofageengland, ons.gov.uk/peoplepopulationandcommunity/<br>
populationandmigration/populationestimates/datasets/populationestimatesforukenglandandwalesscotlandandnorthernireland.</div>
</body></html>
